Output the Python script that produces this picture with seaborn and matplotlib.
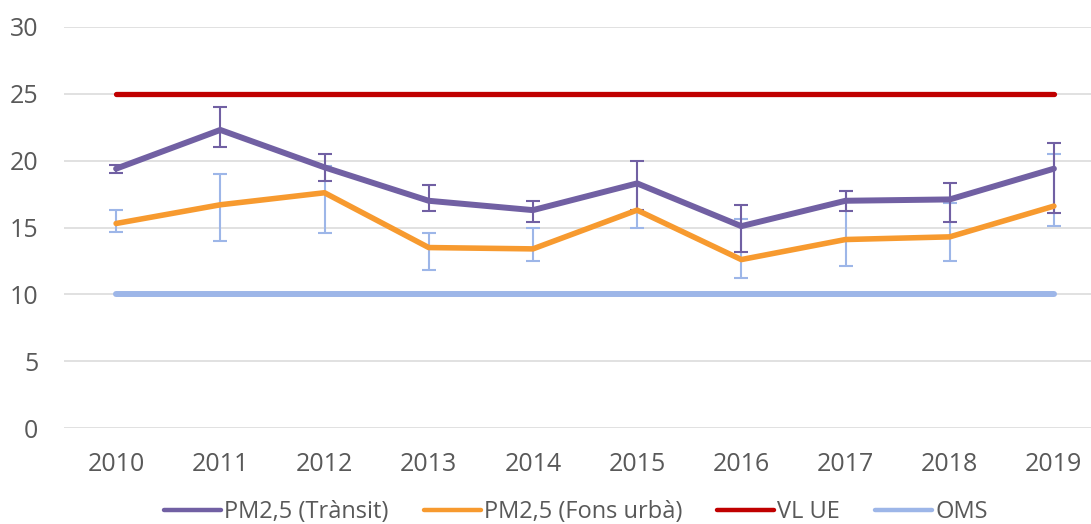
import numpy as np
import pandas as pd
import matplotlib
matplotlib.use("Agg")
import matplotlib.pyplot as plt
import seaborn as sns

years = [2010, 2011, 2012, 2013, 2014, 2015, 2016, 2017, 2018, 2019]

# PM2,5 (Trànsit) and its error bar ends
transit = [19.4, 22.3, 19.5, 17.0, 16.3, 18.3, 15.1, 17.0, 17.1, 19.4]
transit_hi = [19.7, 24.0, 20.5, 18.2, 17.0, 20.0, 16.7, 17.7, 18.3, 21.3]
transit_lo = [19.1, 21.0, 18.5, 16.2, 15.4, 16.3, 13.2, 16.2, 15.4, 16.1]

# PM2,5 (Fons urbà) and its error bar ends
fons = [15.3, 16.7, 17.6, 13.5, 13.4, 16.3, 12.6, 14.1, 14.3, 16.6]
fons_hi = [16.3, 19.0, 19.6, 14.6, 15.0, 18.1, 15.6, 17.7, 16.8, 20.5]
fons_lo = [14.7, 14.0, 14.6, 11.8, 12.5, 15.0, 11.2, 12.1, 12.5, 15.1]

# limit values
vl_ue = [25, 25, 25, 25, 25, 25, 25, 25, 25, 25]
oms = [10, 10, 10, 10, 10, 10, 10, 10, 10, 10]

labels = ["PM2,5 (Trànsit)", "PM2,5 (Fons urbà)", "VL UE", "OMS"]

purple = "#7160A3"
orange = "#F79A2F"
red = "#C00000"
lblue = "#9DB6E8"
grey = "#595959"

sns.set_theme(style="white")
plt.rcParams["font.family"] = ["Open Sans", "DejaVu Sans"]

df = pd.DataFrame({"year": years, "transit": transit, "fons": fons,
                   "vl_ue": vl_ue, "oms": oms})

fig = plt.figure(figsize=(10.91, 5.24), dpi=100)
ax = fig.add_axes([64 / 1091, 1 - 428 / 524, 1 - 64 / 1091, (428 - 27) / 524])

# light blue error bars of urban background sit under the lines
fons_err = [np.array(fons) - np.array(fons_lo), np.array(fons_hi) - np.array(fons)]
ax.errorbar(years, fons, yerr=fons_err, fmt="none", ecolor=lblue,
            elinewidth=1.5, capsize=4.7, capthick=1.5, zorder=2.5)

sns.lineplot(data=df, x="year", y="vl_ue", ax=ax, color=red, linewidth=3.8,
             label=labels[2], zorder=2, solid_capstyle="round")
sns.lineplot(data=df, x="year", y="oms", ax=ax, color=lblue, linewidth=4.3,
             label=labels[3], zorder=2, solid_capstyle="round")
sns.lineplot(data=df, x="year", y="fons", ax=ax, color=orange, linewidth=4.0,
             label=labels[1], zorder=3.6, solid_capstyle="round")

tr_err = [np.array(transit) - np.array(transit_lo), np.array(transit_hi) - np.array(transit)]
ax.errorbar(years, transit, yerr=tr_err, fmt="none", ecolor=purple,
            elinewidth=1.5, capsize=4.7, capthick=1.5, zorder=3.5)
sns.lineplot(data=df, x="year", y="transit", ax=ax, color=purple, linewidth=4.3,
             label=labels[0], zorder=4, solid_capstyle="round")

ax.set_ylim(0, 30)
ax.set_yticks([0, 5, 10, 15, 20, 25, 30])
ax.set_xlim(2009.5, 2009.5 + 1027 / 104.2)
ax.set_xticks(years)
ax.set_xlabel("")
ax.set_ylabel("")
ax.grid(axis="y", color="#D9D9D9", linewidth=1.1)
ax.set_axisbelow(True)
for s in ax.spines.values():
    s.set_visible(False)
ax.tick_params(axis="both", length=0, labelsize=18, labelcolor=grey)
ax.tick_params(axis="x", pad=17)
ax.tick_params(axis="y", pad=18.5)

handles, labs = ax.get_legend_handles_labels()
order = [labs.index(l) for l in labels]
ax.get_legend().remove()
leg = fig.legend([handles[i] for i in order], [labs[i] for i in order],
                 loc="center", bbox_to_anchor=(576 / 1091, 1 - 512 / 524),
                 ncol=4, frameon=False, fontsize=17, handlelength=2.4,
                 handletextpad=0.13, columnspacing=1.5, borderaxespad=0)
for t in leg.get_texts():
    t.set_color(grey)
for h in leg.get_lines():
    h.set_linewidth(3.2)

fig.savefig("out.png", dpi=100)
